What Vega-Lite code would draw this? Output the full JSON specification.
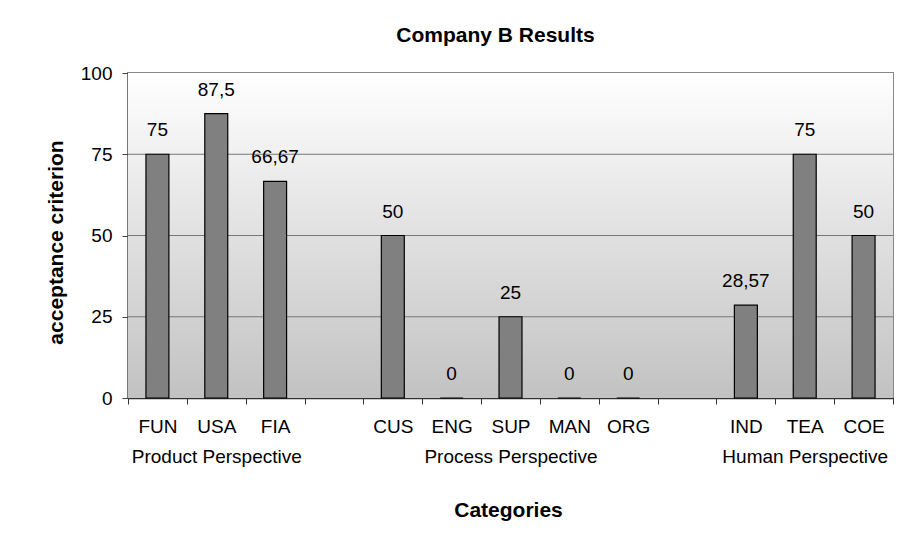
{
  "$schema": "https://vega.github.io/schema/vega-lite/v6.json",
  "width": 765,
  "height": 325,
  "autosize": {"type": "none"},
  "padding": {"left": 128, "top": 73, "right": 17, "bottom": 139},
  "background": "white",
  "title": {
    "text": "Company B Results",
    "fontSize": 21,
    "fontWeight": "bold",
    "font": "Liberation Sans",
    "color": "black",
    "anchor": "middle",
    "frame": "group",
    "baseline": "alphabetic",
    "offset": 1,
    "dx": -15
  },
  "config": {
    "locale": {"number": {"decimal": ",", "thousands": ".", "grouping": [3], "currency": ["", " €"]}},
    "font": "Liberation Sans",
    "view": {"stroke": "#888888", "strokeWidth": 2}
  },
  "data": {
    "values": [
      {"code": "FUN", "group": "Product Perspective", "value": 75},
      {"code": "USA", "group": "Product Perspective", "value": 87.5},
      {"code": "FIA", "group": "Product Perspective", "value": 66.67},
      {"code": "CUS", "group": "Process Perspective", "value": 50},
      {"code": "ENG", "group": "Process Perspective", "value": 0},
      {"code": "SUP", "group": "Process Perspective", "value": 25},
      {"code": "MAN", "group": "Process Perspective", "value": 0},
      {"code": "ORG", "group": "Process Perspective", "value": 0},
      {"code": "IND", "group": "Human Perspective", "value": 28.57},
      {"code": "TEA", "group": "Human Perspective", "value": 75},
      {"code": "COE", "group": "Human Perspective", "value": 50}
    ]
  },
  "layer": [
    {
      "data": {"values": [{"top": 100, "bottom": 0}]},
      "mark": {
        "type": "rect",
        "fill": {
          "gradient": "linear",
          "x1": 0, "y1": 0, "x2": 0, "y2": 1,
          "stops": [
            {"offset": 0, "color": "#ffffff"},
            {"offset": 1, "color": "#c2c2c2"}
          ]
        }
      },
      "encoding": {
        "y": {"field": "top", "type": "quantitative"},
        "y2": {"field": "bottom"}
      }
    },
    {
      "data": {"values": [{"level": 25}, {"level": 50}, {"level": 75}]},
      "mark": {"type": "rule", "color": "#777777", "strokeWidth": 1.2},
      "encoding": {"y": {"field": "level", "type": "quantitative"}}
    },
    {
      "mark": {"type": "bar", "fill": "#808080", "stroke": "black", "strokeWidth": 1.2, "width": {"band": 0.39}},
      "encoding": {
        "x": {
          "field": "code",
          "type": "nominal",
          "scale": {
            "domain": ["FUN", "USA", "FIA", "_gap1", "CUS", "ENG", "SUP", "MAN", "ORG", "_gap2", "IND", "TEA", "COE"],
            "paddingInner": 0,
            "paddingOuter": 0
          },
          "axis": {
            "title": "Categories",
            "titleFontSize": 21,
            "titleFontWeight": "bold",
            "titleColor": "black",
            "titleBaseline": "alphabetic",
            "titleY": 118,
            "titleX": 380,
            "labelAngle": 0,
            "labelFontSize": 19,
            "labelColor": "black",
            "labelPadding": 13,
            "labelLineHeight": 30,
            "labelOverlap": false,
            "labelExpr": "datum.value == 'USA' ? ['USA', 'Product Perspective'] : datum.value == 'SUP' ? ['SUP', 'Process Perspective'] : datum.value == 'TEA' ? ['TEA', 'Human Perspective'] : (!datum.value || datum.value == '_gap1' || datum.value == '_gap2') ? '' : datum.label",
            "tickBand": "extent",
            "tickSize": 6,
            "tickColor": "#333333",
            "domainColor": "#333333",
            "domainWidth": 1.5
          }
        },
        "y": {"field": "value", "type": "quantitative"}
      }
    },
    {
      "mark": {"type": "text", "baseline": "alphabetic", "dy": -18, "fontSize": 19, "color": "black"},
      "encoding": {
        "x": {"field": "code", "type": "nominal"},
        "y": {"field": "value", "type": "quantitative"},
        "text": {"field": "value", "type": "quantitative"}
      }
    }
  ],
  "encoding": {
    "y": {
      "field": "value",
      "type": "quantitative",
      "scale": {"domain": [0, 100], "nice": false},
      "axis": {
        "title": "acceptance criterion",
        "titleFontSize": 21,
        "titleFontWeight": "bold",
        "titleColor": "black",
        "titleAngle": -90,
        "titleAlign": "center",
        "titleBaseline": "alphabetic",
        "titleX": -66,
        "titleY": 169,
        "values": [0, 25, 50, 75, 100],
        "labelFontSize": 19,
        "labelColor": "black",
        "labelPadding": 10,
        "tickSize": 6,
        "tickColor": "#444444",
        "domainColor": "#444444",
        "domainWidth": 1.5,
        "grid": false
      }
    }
  }
}
